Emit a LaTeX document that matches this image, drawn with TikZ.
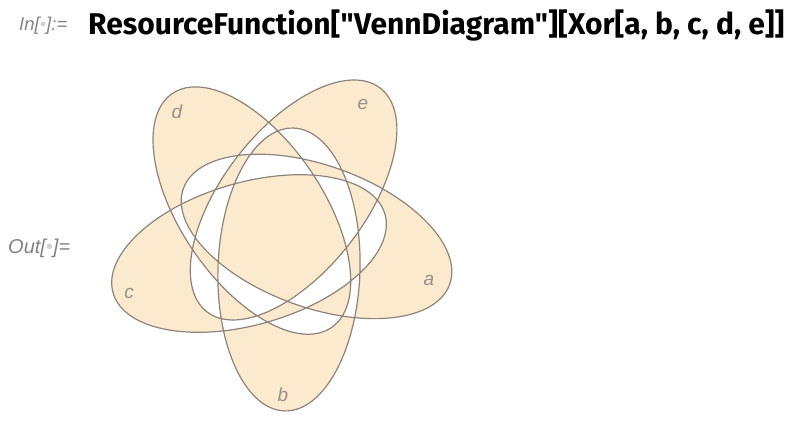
\documentclass[tikz,border=0pt]{standalone}
\usepackage{fontspec}
\setmainfont{Liberation Sans}
\newfontfamily\headfont{Fira Sans}
\usepackage{tikz}

\definecolor{vennfill}{RGB}{252,234,206}
\definecolor{venndraw}{RGB}{140,132,122}
\definecolor{labelgray}{RGB}{150,144,136}
\definecolor{promptgray}{RGB}{130,130,130}
\definecolor{dotgray}{RGB}{210,210,210}

\begin{document}
\begin{tikzpicture}[x=1pt,y=1pt,
	setlabel/.style={text=labelgray, font=\itshape\fontsize{19}{19}\selectfont},
	prompt/.style={text=promptgray, anchor=base west, inner sep=0pt, font=\itshape\fontsize{19}{19}\selectfont}]
		\useasboundingbox (0,0) rectangle (796,-438);
		%draw input line
		\node[prompt, font=\itshape\fontsize{18.5}{18.5}\selectfont] (inprompt) at (19,-31) {In[\textcolor{dotgray}{•}]:=};
		\node[anchor=base west, inner sep=0pt, font=\headfont\bfseries\fontsize{30}{30}\selectfont] (input) at (88,-35) {ResourceFunction["VennDiagram"][Xor[a, b, c, d, e]]};
		\node[prompt, font=\itshape\fontsize{20}{20}\selectfont] (outprompt) at (8,-254) {Out[\textcolor{dotgray}{•}]=};
		%draw the five ellipses, even odd rule gives the xor shading
		\filldraw[fill=vennfill, draw=venndraw, line width=1.2pt, even odd rule]
			{[shift={(280,-234)}, rotate=-1.8] (10.1,-35.2) ellipse [x radius=71, y radius=141.5]}
			{[shift={(280,-234)}, rotate=70.2] (10.1,-35.2) ellipse [x radius=71, y radius=141.5]}
			{[shift={(280,-234)}, rotate=142.2] (10.1,-35.2) ellipse [x radius=71, y radius=141.5]}
			{[shift={(280,-234)}, rotate=214.2] (10.1,-35.2) ellipse [x radius=71, y radius=141.5]}
			{[shift={(280,-234)}, rotate=286.2] (10.1,-35.2) ellipse [x radius=71, y radius=141.5]};
		%draw labels
		\node[setlabel] (seta) at (429,-280) {a};
		\node[setlabel] (setb) at (283,-395) {b};
		\node[setlabel] (setc) at (129,-293) {c};
		\node[setlabel] (setd) at (177,-112) {d};
		\node[setlabel] (sete) at (363,-104) {e};
\end{tikzpicture}
\end{document}
